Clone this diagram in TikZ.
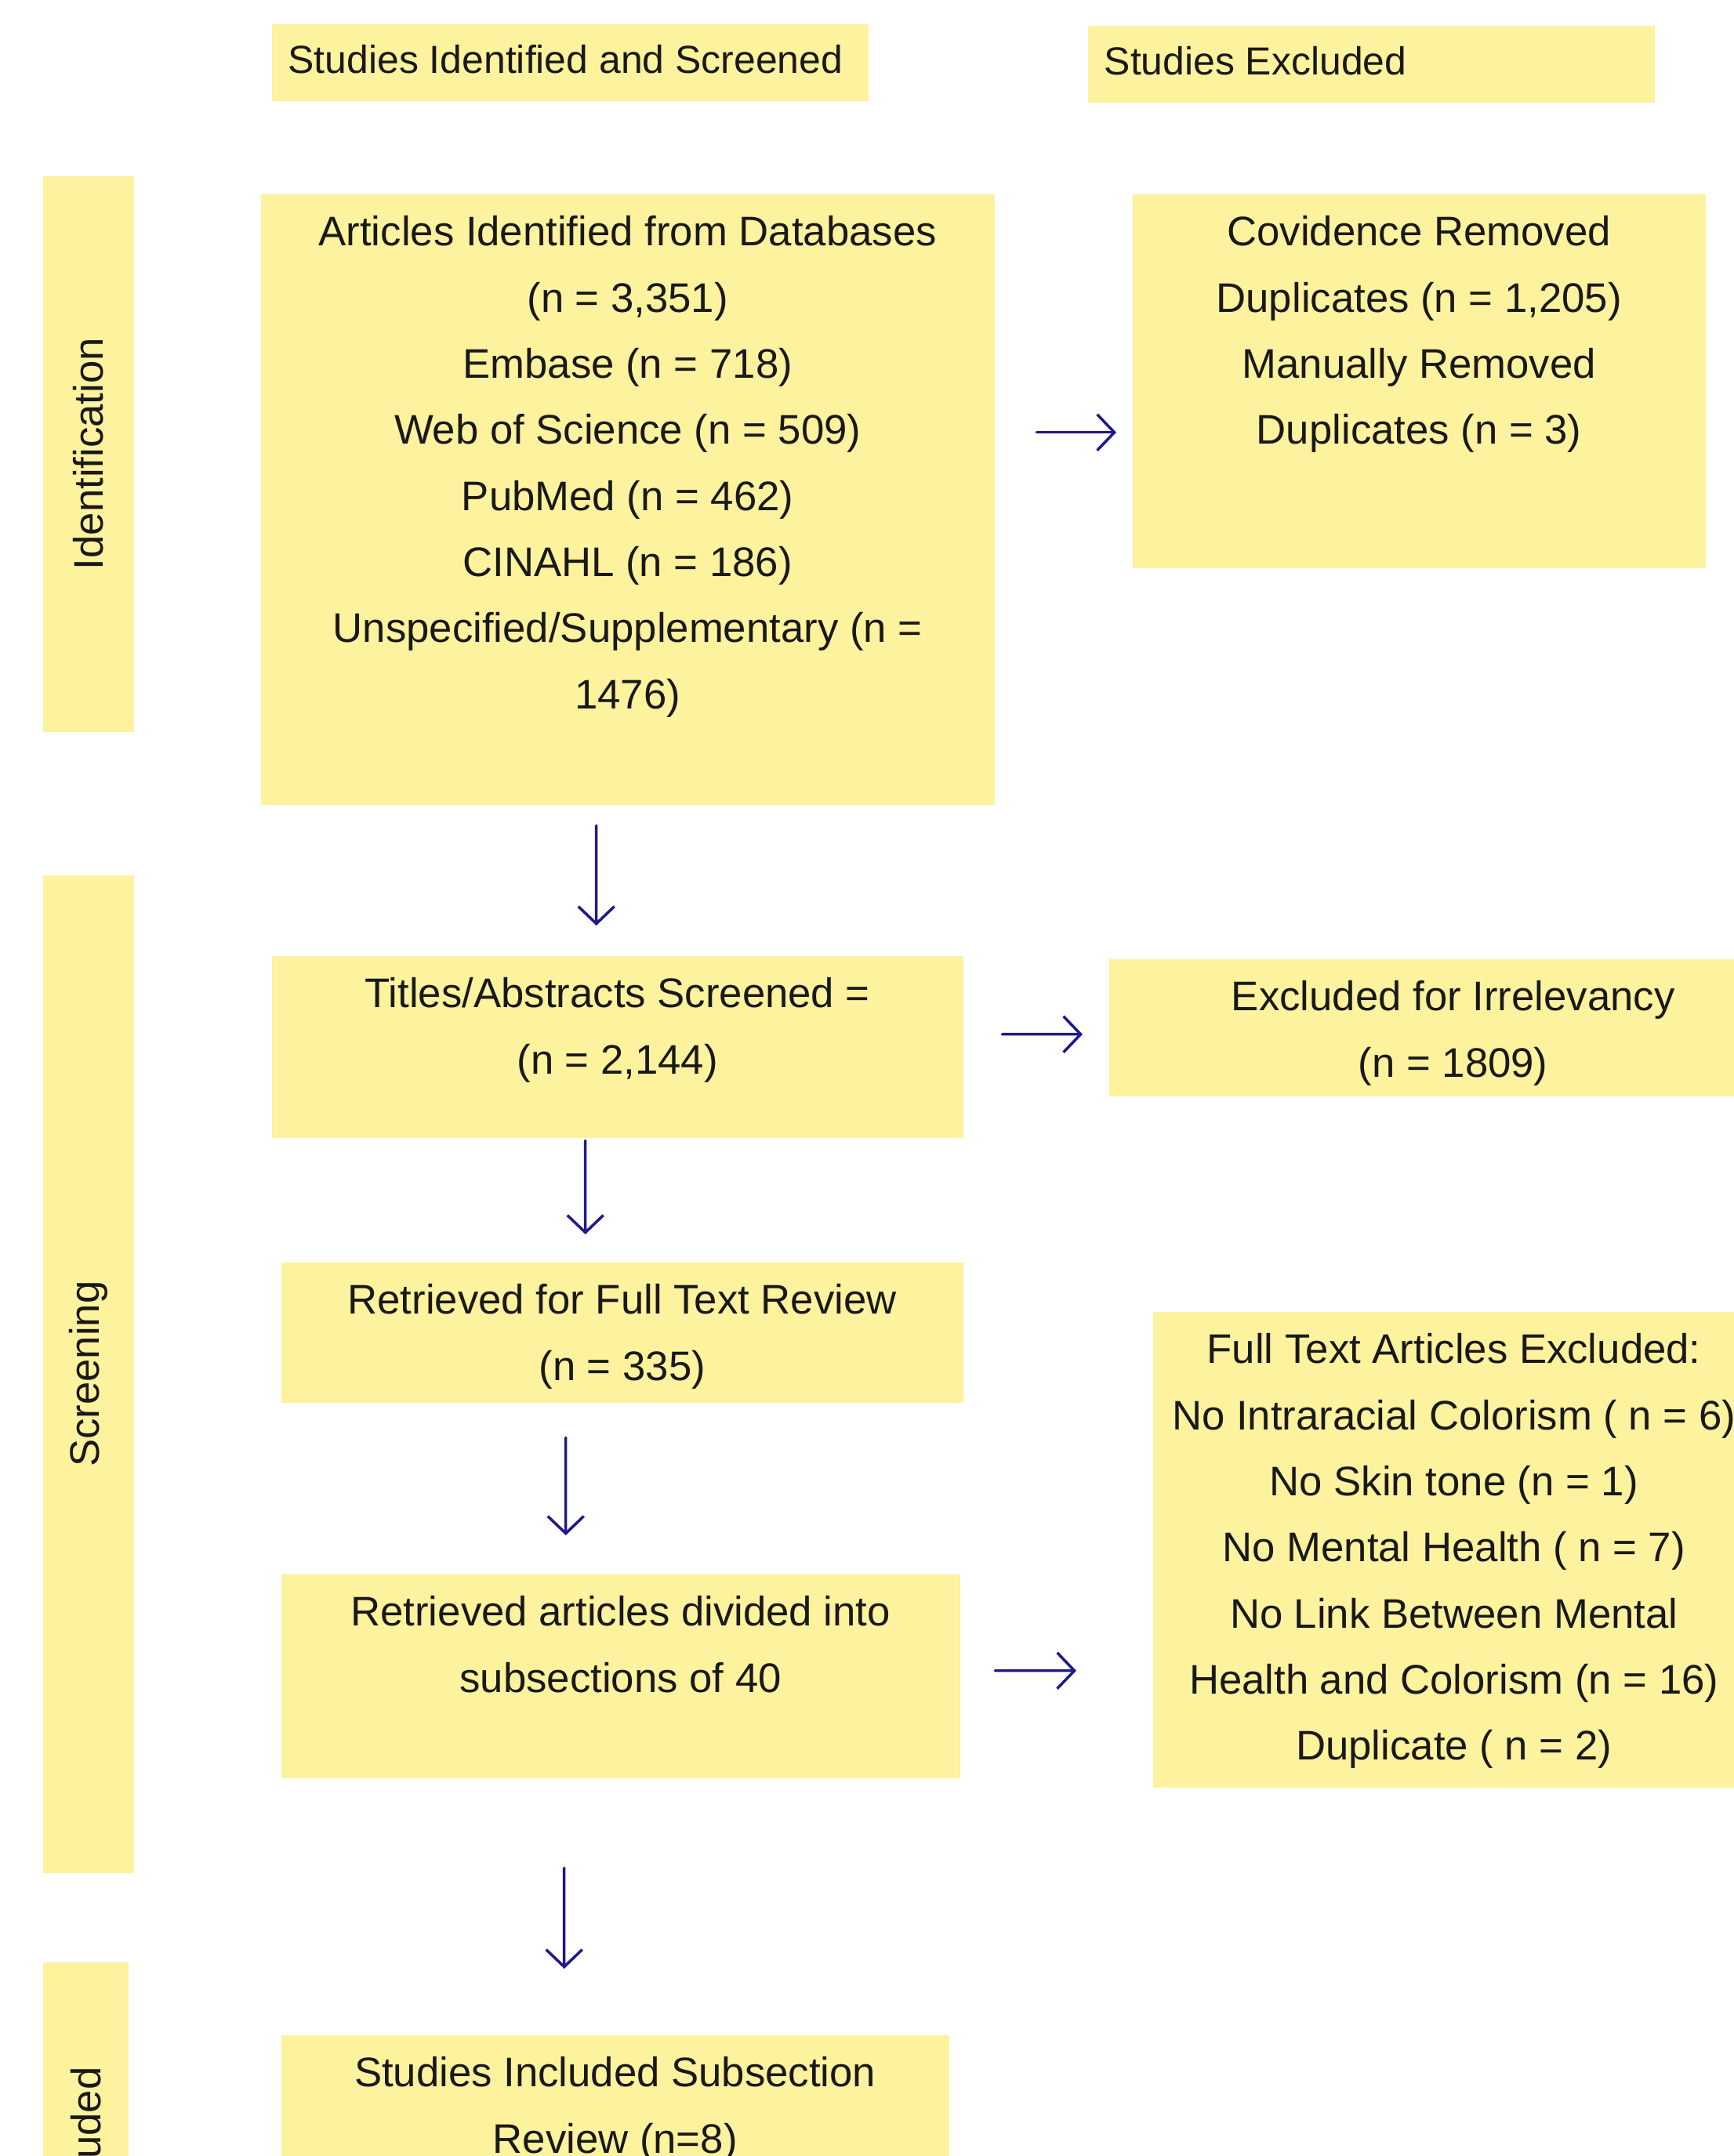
\documentclass[tikz,border=0pt]{standalone}
\usepackage{fontspec}
\setmainfont{Liberation Sans}
\usepackage{xcolor}
\usetikzlibrary{positioning, arrows.meta}
\definecolor{notefill}{HTML}{FDF29D}
\definecolor{flowink}{HTML}{1F1A8A}

\begin{document}
\begin{tikzpicture}[
      every node/.style={font=\fontsize{15}{24}\selectfont, text=black!90},
      panel/.style={rectangle, fill=notefill, draw=none, inner sep=0pt, anchor=north west},
      boxtext/.style={align=center, inner sep=0pt},
      heading/.style={inner sep=0pt, anchor=west, font=\fontsize{14.2}{20}\selectfont},
      phase/.style={rotate=90, inner sep=0pt},
      arr/.style={-{Straight Barb[length=2.2mm, width=4.6mm]}, draw=flowink,
                  line width=1pt, line cap=round, line join=round},
    ]
    \useasboundingbox (0,0) rectangle (22.12,-27.51);
    \clip (0,0) rectangle (22.12,-27.51);

    \node[panel, minimum width=7.61cm, minimum height=0.98cm] (hdrL) at (3.46,-0.30) {};
    \node[heading, right=0.21cm of hdrL.west, yshift=0.04cm] (hdrL-txt) {Studies Identified and Screened};
    \node[panel, minimum width=7.23cm, minimum height=0.98cm] (hdrR) at (13.87,-0.32) {};
    \node[heading, right=0.21cm of hdrR.west, yshift=0.04cm] (hdrR-txt) {Studies Excluded};

    \node[panel, minimum width=1.16cm, minimum height=7.09cm]  (barId)  at (0.54,-2.24)  {};
    \node[phase] (barId-txt)  at (barId.center)  {Identification};
    \node[panel, minimum width=1.16cm, minimum height=12.73cm] (barScr) at (0.54,-11.16) {};
    \node[phase] (barScr-txt) at (barScr.center) {Screening};
    \node[panel, minimum width=1.09cm, minimum height=4.67cm]  (barInc) at (0.54,-25.03) {};
    \node[phase] (barInc-txt) at (barInc.center) {Included};

    \node[panel, minimum width=9.36cm, minimum height=7.79cm] (ids) at (3.32,-2.47)  {};
    \node[panel, minimum width=7.31cm, minimum height=4.77cm] (dup) at (14.44,-2.47) {};
    \node[panel, minimum width=8.82cm, minimum height=2.32cm] (scr) at (3.46,-12.19) {};
    \node[panel, minimum width=8.78cm, minimum height=1.75cm] (irr) at (14.14,-12.23) {};
    \node[panel, minimum width=8.70cm, minimum height=1.79cm] (ret) at (3.58,-16.10) {};
    \node[panel, minimum width=8.66cm, minimum height=2.60cm] (sub) at (3.58,-20.08) {};
    \node[panel, minimum width=7.68cm, minimum height=6.07cm] (ftx) at (14.70,-16.73) {};
    \node[panel, minimum width=8.52cm, minimum height=2.54cm] (inc) at (3.58,-25.96) {};

    \node[boxtext, below=0.07cm of ids.north] (ids-txt) {\strut Articles Identified from Databases\\ (n = 3,351)\\
      Embase (n = 718)\\ Web of Science (n = 509)\\ PubMed (n = 462)\\ CINAHL (n = 186)\\
      Unspecified/Supplementary (n =\\ 1476)};
    \node[boxtext, below=0.07cm of dup.north] (dup-txt) {\strut Covidence Removed\\ Duplicates (n = 1,205)\\
      Manually Removed\\ Duplicates (n = 3)};
    \node[boxtext, below=0.07cm of scr.north] (scr-txt) {\strut Titles/Abstracts Screened =\\ (n = 2,144)};
    \node[boxtext, below=0.07cm of irr.north] (irr-txt) {\strut Excluded for Irrelevancy\\ (n = 1809)};
    \node[boxtext, below=0.07cm of ret.north] (ret-txt) {\strut Retrieved for Full Text Review\\ (n = 335)};
    \node[boxtext, below=0.07cm of sub.north] (sub-txt) {\strut Retrieved articles divided into\\ subsections of 40};
    \node[boxtext, below=0.07cm of ftx.north] (ftx-txt) {\strut Full Text Articles Excluded:\\
      No Intraracial Colorism ( n = 6)\\ No Skin tone (n = 1)\\ No Mental Health ( n = 7)\\
      No Link Between Mental\\ Health and Colorism (n = 16)\\ Duplicate ( n = 2)};
    \node[boxtext, below=0.07cm of inc.north] (inc-txt) {\strut Studies Included Subsection\\ Review (n=8)};

    \draw[arr, shorten <=0.53cm, shorten >=0.20cm] ([yshift=0.855cm]ids.east) -- ([yshift=-0.655cm]dup.west);
    \draw[arr, shorten <=0.26cm, shorten >=0.38cm] ([xshift=-0.40cm]ids.south) -- ([xshift=-0.27cm]scr.north);
    \draw[arr, shorten <=0.49cm, shorten >=0.33cm] ([yshift=0.16cm]scr.east)  -- ([yshift=-0.085cm]irr.west);
    \draw[arr, shorten <=0.03cm, shorten >=0.35cm] ([xshift=-0.41cm]scr.south) -- ([xshift=-0.47cm]ret.north);
    \draw[arr, shorten <=0.44cm, shorten >=0.49cm] ([xshift=-0.72cm]ret.south) -- ([xshift=-0.70cm]sub.north);
    \draw[arr, shorten <=0.44cm, shorten >=0.97cm] ([yshift=0.07cm]sub.east)  -- ([yshift=-1.545cm]ftx.west);
    \draw[arr, shorten <=1.14cm, shorten >=0.84cm] ([xshift=-0.72cm]sub.south) -- ([xshift=-0.65cm]inc.north);
  \end{tikzpicture}
\end{document}
